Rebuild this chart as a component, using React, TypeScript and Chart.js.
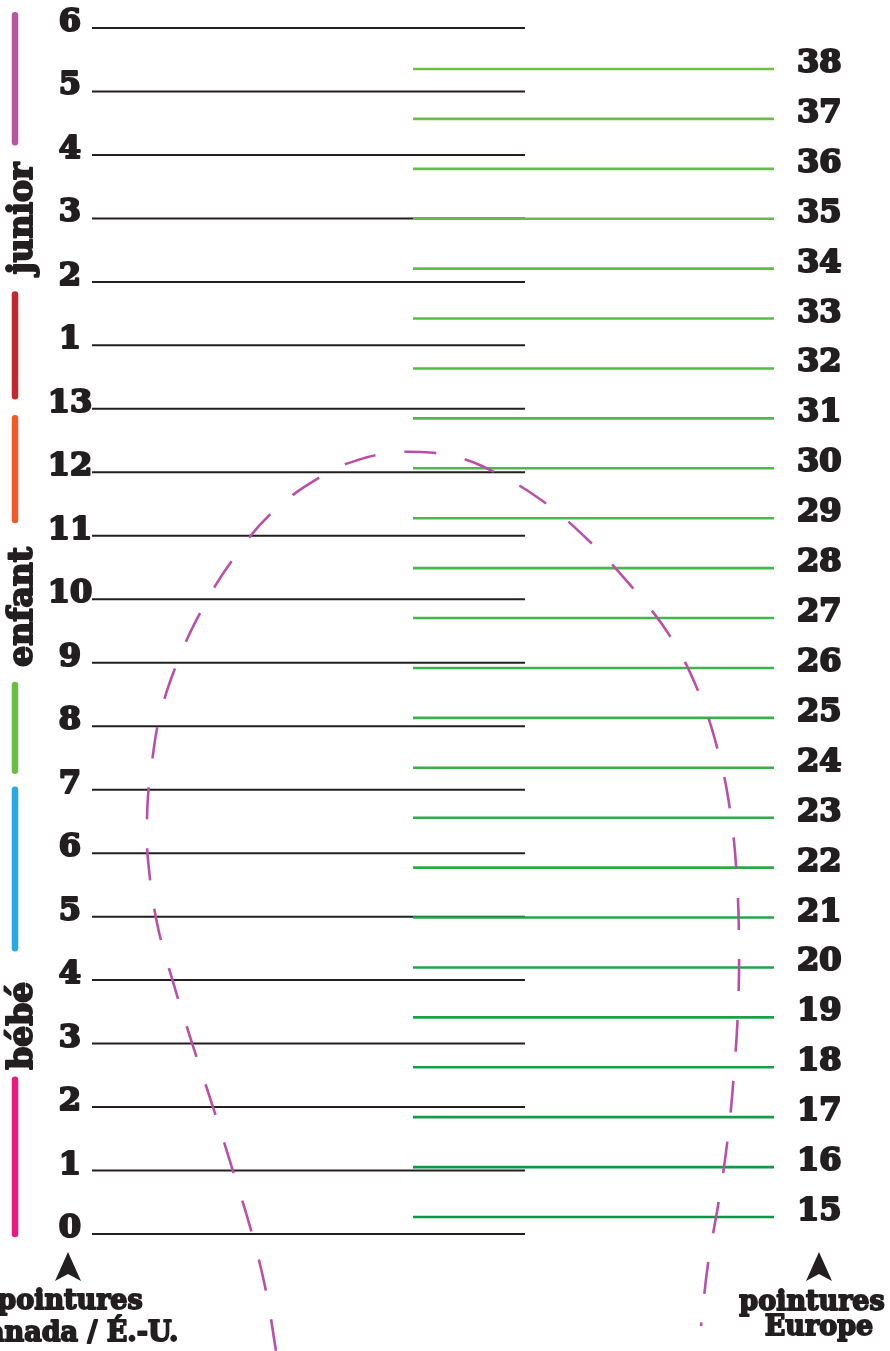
import React, { useEffect, useRef } from 'react';
import { Chart, registerables } from 'chart.js';

Chart.register(...registerables);

// ---------------- data ----------------
// Canada / US sizes, bottom to top (index on the "us" axis)
const usSizeLabels = ['0', '1', '2', '3', '4', '5', '6', '7', '8', '9', '10', '11', '12', '13', '1', '2', '3', '4', '5', '6'];
// European sizes, bottom to top
const euSizes = [15, 16, 17, 18, 19, 20, 21, 22, 23, 24, 25, 26, 27, 28, 29, 30, 31, 32, 33, 34, 35, 36, 37, 38];
// coloured size bands on the left (in "us" index units)
const bandFrom = [0, 4.5, 7.3, 11.25, 13.2, 17.2];
const bandTo = [2.43, 7.0, 8.65, 12.85, 14.8, 19.2];
const bandColors = ['#ec1a7f', '#27aae1', '#6abd45', '#f15a29', '#c1272d', '#b854a6'];
// age group names and the middle of their span (in "us" index units)
const ageGroups = ['bébé', 'enfant', 'junior'];
const ageGroupMiddles = [3.28, 9.88, 16.0];
// dashed foot outline: horizontal position (0..890 diagram units) and height on the "us" axis
const footX = [276, 266, 251, 232, 213, 193, 174, 157, 148, 147, 148, 152, 159, 174, 200, 234, 275, 327, 357, 388, 421, 451, 482, 538, 587, 631, 670, 699, 719, 731, 737, 739, 738, 734, 728, 719, 708, 701];
const footY = [-1.84, -0.9, 0.06, 1.04, 2.0, 2.96, 3.92, 4.9, 5.89, 6.43, 6.9, 7.44, 8.1, 8.87, 9.78, 10.65, 11.41, 11.99, 12.19, 12.3, 12.32, 12.26, 12.1, 11.6, 10.95, 10.21, 9.42, 8.52, 7.55, 6.57, 5.56, 4.55, 3.54, 2.54, 1.54, 0.54, -0.47, -1.45];
const axisTitleUS = ['pointures', 'Canada / É.-U.'];
const axisTitleEU = ['pointures', 'Europe'];

// ---------------- layout / style ----------------
const W = 890;
const H = 1351;
const INK = '#231f20';
const FONT = '"DejaVu Serif", serif';
const BLACK_LINE = { from: 92, to: 525 };
const GREEN_LINE = { from: 413, to: 774 };
const BAND_X = 15;
const US_LABEL_X = 70;
const EU_LABEL_X = 797;
const GROUP_BASELINE_X = 32;

function hexToRgb(h: string) {
  const n = parseInt(h.slice(1), 16);
  return [(n >> 16) & 255, (n >> 8) & 255, n & 255];
}
function mix(a: string, b: string, t: number) {
  const A = hexToRgb(a);
  const B = hexToRgb(b);
  const c = A.map((v, i) => Math.round(v + (B[i] - v) * t));
  return `rgb(${c[0]},${c[1]},${c[2]})`;
}
function greenFor(i: number, n: number) {
  const t = i / (n - 1);
  if (t < 0.48) return mix('#0b9547', '#3db54a', t / 0.48);
  return mix('#3db54a', '#6fbf47', (t - 0.48) / 0.52);
}

function drawArrow(ctx: CanvasRenderingContext2D, cx: number, tip: number) {
  ctx.beginPath();
  ctx.moveTo(cx, tip);
  ctx.lineTo(cx + 13, tip + 29);
  ctx.lineTo(cx, tip + 22);
  ctx.lineTo(cx - 13, tip + 29);
  ctx.closePath();
  ctx.fill();
}

function heavyText(ctx: CanvasRenderingContext2D, s: string, x: number, y: number, w: number) {
  ctx.lineWidth = w;
  ctx.strokeText(s, x, y);
  ctx.fillText(s, x, y);
}

const textPlugin = {
  id: 'sizeTexts',
  afterDatasetsDraw(chart: any) {
    const ctx: CanvasRenderingContext2D = chart.ctx;
    const us = chart.scales.us;
    const eu = chart.scales.eu;
    const x = chart.scales.x;
    ctx.save();
    ctx.fillStyle = INK;
    ctx.strokeStyle = INK;
    ctx.lineJoin = 'round';
    ctx.textBaseline = 'alphabetic';

    // US labels
    ctx.font = `bold 32px ${FONT}`;
    ctx.textAlign = 'center';
    usSizeLabels.forEach((lab, i) => {
      heavyText(ctx, lab, x.getPixelForValue(US_LABEL_X), us.getPixelForValue(i) + 3, 2.2);
    });
    // EU labels
    ctx.textAlign = 'left';
    euSizes.forEach((v) => {
      heavyText(ctx, String(v), x.getPixelForValue(EU_LABEL_X), eu.getPixelForValue(v) + 3, 2.2);
    });

    // age groups (rotated)
    ctx.font = `bold 33px ${FONT}`;
    ctx.textAlign = 'center';
    ageGroups.forEach((g, i) => {
      ctx.save();
      ctx.translate(x.getPixelForValue(GROUP_BASELINE_X), us.getPixelForValue(ageGroupMiddles[i]));
      ctx.rotate(-Math.PI / 2);
      heavyText(ctx, g, 0, 0, 2);
      ctx.restore();
    });

    // arrows and axis titles
    const lx = x.getPixelForValue(68);
    const rx = x.getPixelForValue(819);
    drawArrow(ctx, lx, 1252);
    drawArrow(ctx, rx, 1252);
    ctx.font = `bold 27px ${FONT}`;
    ctx.textAlign = 'center';
    heavyText(ctx, axisTitleUS[0], x.getPixelForValue(70), 1309, 1.8);
    heavyText(ctx, axisTitleUS[1], x.getPixelForValue(72), 1341, 1.8);
    heavyText(ctx, axisTitleEU[0], x.getPixelForValue(812), 1310, 1.8);
    heavyText(ctx, axisTitleEU[1], x.getPixelForValue(819), 1335, 1.8);
    ctx.restore();
  },
};

export default function App() {
  const ref = useRef<HTMLCanvasElement | null>(null);

  useEffect(() => {
    if (!ref.current) return;
    const datasets: any[] = [];

    // foot outline (drawn on top)
    datasets.push({
      data: footX.map((xv, i) => ({ x: xv, y: footY[i] })),
      yAxisID: 'us',
      borderColor: '#bb4fa8',
      borderWidth: 2.6,
      borderDash: [32, 29],
      borderCapStyle: 'butt',
      tension: 0.4,
      pointRadius: 0,
      fill: false,
    });

    // European size lines
    euSizes.forEach((v, i) => {
      datasets.push({
        data: [
          { x: GREEN_LINE.from, y: v },
          { x: GREEN_LINE.to, y: v },
        ],
        yAxisID: 'eu',
        borderColor: greenFor(i, euSizes.length),
        borderWidth: 2.6,
        pointRadius: 0,
        fill: false,
      });
    });

    // Canada / US size lines
    usSizeLabels.forEach((_, i) => {
      datasets.push({
        data: [
          { x: BLACK_LINE.from, y: i },
          { x: BLACK_LINE.to, y: i },
        ],
        yAxisID: 'us',
        borderColor: INK,
        borderWidth: 2,
        pointRadius: 0,
        fill: false,
      });
    });

    // coloured bands
    bandFrom.forEach((f, i) => {
      datasets.push({
        data: [
          { x: BAND_X, y: f },
          { x: BAND_X, y: bandTo[i] },
        ],
        yAxisID: 'us',
        borderColor: bandColors[i],
        borderWidth: 6.5,
        borderCapStyle: 'round',
        pointRadius: 0,
        fill: false,
      });
    });

    const chart = new Chart(ref.current, {
      type: 'line',
      data: { datasets },
      options: {
        animation: false,
        responsive: true,
        maintainAspectRatio: false,
        events: [],
        layout: { padding: 0 },
        plugins: { legend: { display: false }, tooltip: { enabled: false } },
        scales: {
          x: { type: 'linear', min: 0, max: W, display: false },
          us: { type: 'linear', position: 'left', min: -1.8433, max: 19.4411, display: false },
          eu: { type: 'linear', position: 'right', min: 12.3153, max: 39.3824, display: false },
        },
      },
      plugins: [textPlugin],
    } as any);
    return () => chart.destroy();
  }, []);

  return (
    <div style={{ position: 'absolute', left: 0, top: 0, width: W, height: H, background: '#ffffff' }}>
      <canvas ref={ref} />
    </div>
  );
}
